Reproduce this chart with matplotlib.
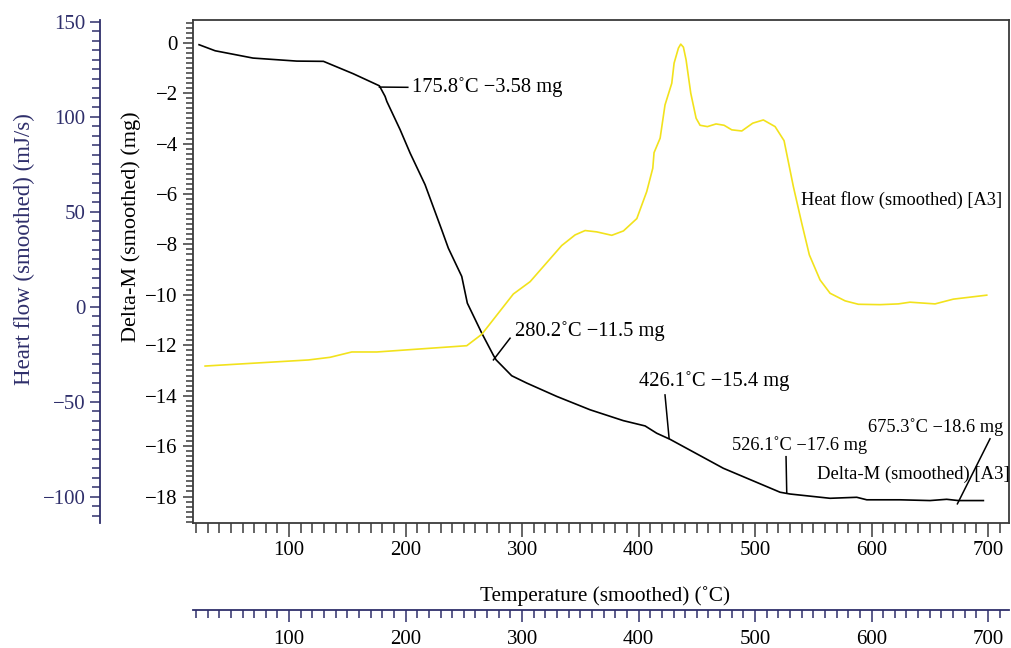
import matplotlib
matplotlib.use("Agg")
import numpy as np
import matplotlib.pyplot as plt
from matplotlib.ticker import MultipleLocator

plt.rcParams["font.family"] = ["Liberation Serif", "DejaVu Serif"]

NAVY = "#2f2f6b"
FRAME = "#3a3a3a"
YELLOW = "#f2e21c"

# Delta-M (smoothed) curve, temperature in °C, mass change in mg
dm_temp = [22.7, 36.5, 69, 106.6, 129.5, 155, 177.5, 182.4, 183.9, 195.3, 203.9,
           216.7, 231, 236.7, 248.2, 253, 265.4, 275.4, 277.7, 291.1, 304, 329.8,
           358.4, 386.9, 405.6, 415.6, 427, 472.8, 521.5, 530, 564.4, 587.3,
           595.9, 624.5, 650.2, 664.5, 674.5, 696]
dm_mass = [-0.08, -0.32, -0.61, -0.73, -0.74, -1.23, -1.71, -2.13, -2.33, -3.45,
           -4.38, -5.63, -7.42, -8.15, -9.27, -10.33, -11.52, -12.4, -12.58,
           -13.21, -13.5, -14.03, -14.56, -14.99, -15.2, -15.49, -15.73, -16.88,
           -17.83, -17.9, -18.07, -18.03, -18.13, -18.13, -18.16, -18.11, -18.16,
           -18.16]

# Heat flow (smoothed) curve, mJ/s
hf_temp = [27.9, 116.6, 135.2, 153.8, 175.3, 252.5, 265.4, 292.5, 306.9, 334,
           345.5, 354.1, 364.1, 377, 387, 398.5, 407, 412.2, 413.3, 418.5, 422.7,
           428.5, 430.5, 434.2, 436.2, 438.5, 440.8, 444.8, 449.4, 452.8, 459.1,
           466.5, 473.4, 480, 488.6, 498, 507.1, 517.2, 524.9, 532.9, 540.1,
           546.6, 555.8, 564.4, 577.3, 588.7, 607.3, 623, 633, 654.5, 670.2, 698.9]
hf_flow = [-31.1, -27.9, -26.5, -23.7, -23.7, -20.4, -14.4, 6.8, 13.3, 32.3,
           37.9, 40.2, 39.5, 37.7, 40, 46.5, 60.7, 73, 81.2, 88.8, 106.3, 117.7,
           128.3, 136.2, 138.3, 136.7, 130, 112.5, 99.3, 95.6, 94.9, 96.3, 95.6,
           93.2, 92.6, 96.7, 98.4, 94.9, 87.5, 63.3, 44, 27.4, 14.2, 7.2, 3.2,
           1.4, 1.2, 1.6, 2.5, 1.6, 4.1, 6.2]

# marked points: label, leader start (T, mg), leader end (T, mg), text pos, align, size
marks = [
    ("175.8˚C −3.58 mg", (177.5, -1.76), (201.9, -1.77), (205.6, -1.75), "left", 14.8),
    ("280.2˚C −11.5 mg", (275.4, -12.58), (289.7, -11.72), (294.0, -11.43), "left", 14.8),
    ("426.1˚C −15.4 mg", (426.2, -15.69), (422.7, -13.97), (464.8, -13.41), "center", 14.8),
    ("526.1˚C −17.6 mg", (527.2, -17.85), (526.6, -16.42), (538.6, -15.95), "center", 13.2),
    ("675.3˚C −18.6 mg", (673.7, -18.29), (701.7, -15.71), (712.9, -15.24), "right", 13.2),
]

fig = plt.figure(figsize=(10.11, 6.48), dpi=100)
ax = fig.add_axes([193 / 1011, 1 - 523 / 648, 816 / 1011, 503 / 648])

ax.plot(dm_temp, dm_mass, color="black", lw=1.2, zorder=3)
ax.set_xlim(17.5, 718)
ax.set_ylim(-19.05, 0.9)

for spine in ax.spines.values():
    spine.set_color(FRAME)
    spine.set_linewidth(1.3)

ax.xaxis.set_major_locator(MultipleLocator(100))
ax.xaxis.set_minor_locator(MultipleLocator(10))
ax.yaxis.set_major_locator(MultipleLocator(2))
ax.yaxis.set_minor_locator(MultipleLocator(0.2))
ax.tick_params(axis="x", which="major", length=10, width=1.1, pad=3, labelsize=15, color=FRAME)
ax.tick_params(axis="x", which="minor", length=7, width=1.1, color=FRAME)
ax.tick_params(axis="y", which="major", length=7, width=1.1, pad=4, labelsize=15, color=FRAME)
ax.tick_params(axis="y", which="minor", length=5, width=1.1, color=FRAME)
ax.set_xticks([100, 200, 300, 400, 500, 600, 700])
ax.set_yticks(np.arange(-18, 1, 2))

ax.set_xlabel("Temperature (smoothed) (˚C)", fontsize=15.3)
ax.xaxis.set_label_coords(0.505, -0.125)
ax.set_ylabel("Delta-M (smoothed) (mg)", fontsize=16)
ax.yaxis.set_label_coords(-0.064, 0.59)

for label, p0, p1, pt, ha, fs in marks:
    ax.plot([p0[0], p1[0]], [p0[1], p1[1]], color="black", lw=1.1, zorder=3)
    ax.text(pt[0], pt[1], label, ha=ha, va="center", fontsize=fs)

ax.text(635.6, -17.14, "Delta-M (smoothed) [A3]", ha="center", va="center", fontsize=13.4)
ax.text(539.5, -6.23, "Heat flow (smoothed) [A3]", ha="left", va="center", fontsize=13.2)

# heat flow on its own offset left axis
ax2 = ax.twinx()
ax2.plot(hf_temp, hf_flow, color=YELLOW, lw=1.2, zorder=2)
ax2.set_ylim(-113.7, 151)
for name, spine in ax2.spines.items():
    spine.set_visible(name == "left")
ax2.spines["left"].set_position(("outward", 67))
ax2.spines["left"].set_color(NAVY)
ax2.spines["left"].set_linewidth(1.3)
ax2.yaxis.set_ticks_position("left")
ax2.yaxis.set_label_position("left")
ax2.yaxis.set_major_locator(MultipleLocator(50))
ax2.yaxis.set_minor_locator(MultipleLocator(5))
ax2.tick_params(axis="y", which="major", length=7, width=1.1, pad=3.5, labelsize=15,
                color=NAVY, labelcolor=NAVY)
ax2.tick_params(axis="y", which="minor", length=6, width=1.1, color=NAVY)
ax2.set_ylabel("Heart flow (smoothed) (mJ/s)", fontsize=16.5, color=NAVY)
ax2.yaxis.set_label_coords(-0.194, 0.545)

# second temperature axis below
ax3 = ax.twiny()
ax3.set_xlim(ax.get_xlim())
for name, spine in ax3.spines.items():
    spine.set_visible(name == "bottom")
ax3.spines["bottom"].set_position(("outward", 62.5))
ax3.spines["bottom"].set_color(NAVY)
ax3.spines["bottom"].set_linewidth(1.3)
ax3.xaxis.set_ticks_position("bottom")
ax3.xaxis.set_label_position("bottom")
ax3.set_xticks([100, 200, 300, 400, 500, 600, 700])
ax3.xaxis.set_minor_locator(MultipleLocator(10))
ax3.tick_params(axis="x", which="major", length=8.5, width=1.1, pad=6, labelsize=15, color=NAVY)
ax3.tick_params(axis="x", which="minor", length=6, width=1.1, color=NAVY)

fig.savefig("out.png", dpi=100)
